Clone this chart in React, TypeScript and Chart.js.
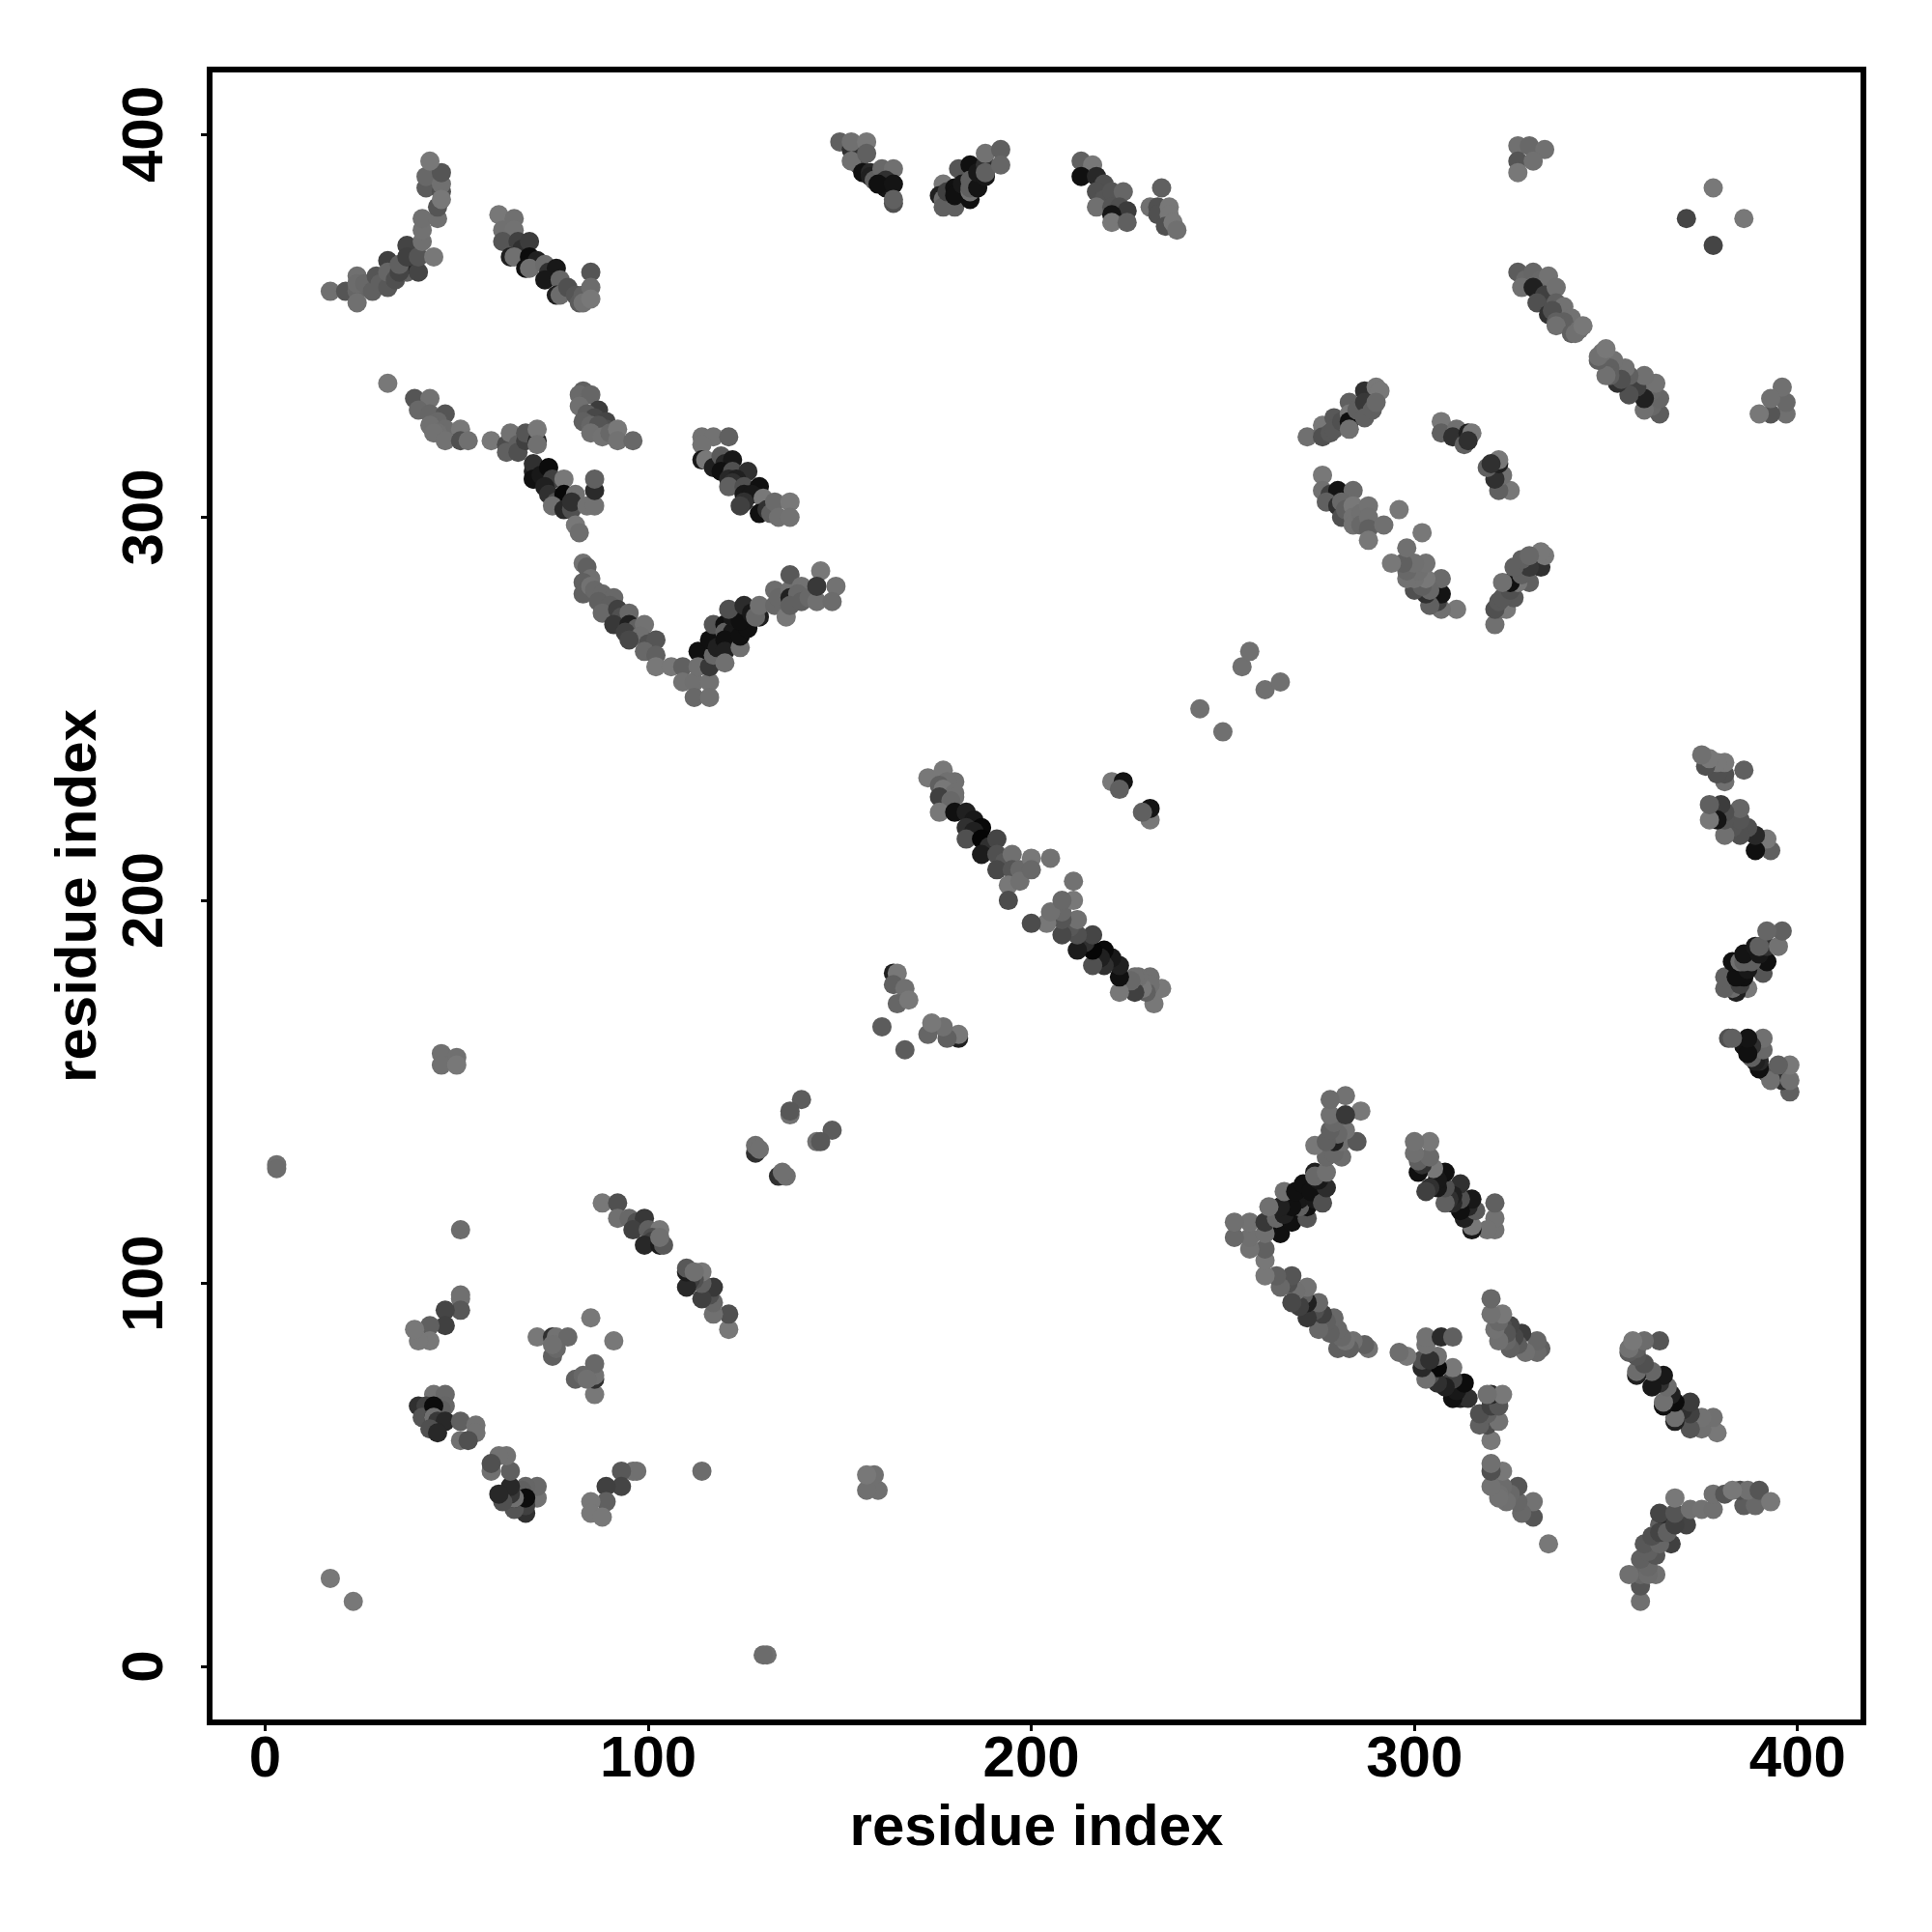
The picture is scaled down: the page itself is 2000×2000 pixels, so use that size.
import React, { useEffect, useRef } from "react";
import { Chart, registerables } from "chart.js";

Chart.register(...registerables);

const axisTitle = "residue index";
const tickValues = [0, 100, 200, 300, 400];

// Each contact is [residue i, residue j, grey level]. The map is symmetric, so only i < j is listed.
const armA = [
  [17,359,0x70],[21,359,0x55],[24,363,0x70],[24,359,0x66],[24,356,0x70],[24,361,0x6c],[26,361,0x68],[28,359,0x60],[29,363,0x55],
  [30,361,0x60],[32,360,0x58],[32,367,0x40],[32,364,0x66],[34,362,0x50],[37,364,0x60],[37,366,0x2a],[35,364,0x44],[35,366,0x60],[37,371,0x44],
  [37,368,0x40],[40,364,0x45],[40,368,0x55],[41,372,0x70],[41,375,0x72],[41,378,0x70],[44,368,0x78],[45,378,0x70],
  [45,381,0x55],[42,386,0x5c],[42,389,0x68],[46,385,0x50],[46,387,0x70],[46,383,0x78],[46,390,0x55],[43,393,0x78],
];
const armB = [
  [61,379,0x78],[65,378,0x70],[62,375,0x70],[65,375,0x72],[62,372,0x55],[66,372,0x40],[67,370,0x30],[69,372,0x3c],[64,368,0x20],
  [65,368,0x70],[69,368,0x0c],[68,365,0x10],[71,367,0x20],[69,365,0x70],[73,366,0x6c],[74,364,0x30],[76,365,0x18],[73,362,0x18],[77,362,0x66],
  [76,358,0x20],[77,358,0x6c],[79,360,0x50],[81,358,0x55],[82,356,0x5c],[83,358,0x60],[83,356,0x72],[85,364,0x55],[85,360,0x6c],[85,357,0x78],
];
const armC = [
  [32,335,0x78],[39,331,0x55],[43,331,0x72],[40,328,0x68],[43,327,0x66],[47,327,0x55],[45,325,0x68],[43,324,0x70],[47,323,0x6c],
  [45,322,0x70],[44,322,0x72],[51,323,0x78],[47,320,0x72],[51,320,0x50],[53,320,0x70],
];
const armD = [
  [59,320,0x78],[63,319,0x4c],[63,317,0x60],[64,322,0x72],[66,319,0x60],[66,317,0x50],[68,320,0x40],[68,322,0x55],[71,320,0x28],
  [71,323,0x78],[71,319,0x70],[70,310,0x60],[70,312,0x20],[70,314,0x30],[70,310,0x10],[72,311,0x18],[74,313,0x0c],[75,310,0x40],[73,308,0x20],[78,310,0x78],
  [74,306,0x30],[76,304,0x50],[78,306,0x08],[81,306,0x72],[75,303,0x70],[78,302,0x28],[80,302,0x50],[80,304,0x30],[84,303,0x72],[86,303,0x72],
  [86,307,0x2a],[86,310,0x60],[81,298,0x78],[82,296,0x6e],
];
const armE = [
  [83,333,0x60],[82,332,0x6a],[85,332,0x66],[82,329,0x70],[87,328,0x3c],[84,327,0x5c],[86,326,0x48],[83,325,0x60],[89,325,0x45],[89,323,0x50],
  [85,324,0x66],[87,324,0x55],[85,322,0x70],[88,321,0x72],[90,322,0x68],[92,323,0x78],[92,320,0x72],[96,320,0x68],
];
const armF = [
  [114,321,0x72],[117,321,0x72],[121,321,0x60],[114,319,0x72],[114,315,0x18],[115,315,0x78],[117,313,0x20],[119,316,0x5a],[120,314,0x28],[122,315,0x18],
  [119,312,0x10],[122,312,0x50],[126,312,0x30],[121,310,0x28],[123,310,0x20],[122,309,0x30],[121,308,0x60],[125,308,0x50],[129,308,0x10],
  [125,306,0x18],[127,306,0x18],[125,304,0x30],[124,303,0x40],[130,305,0x78],[129,301,0x10],[131,302,0x30],[132,301,0x60],[133,304,0x6a],[137,304,0x78],[134,300,0x70],
  [137,300,0x72],
];
const strandG = [
  [83,288,0x72],[84,287,0x60],[85,284,0x70],[83,283,0x60],[83,280,0x60],[85,282,0x72],[86,281,0x68],[88,280,0x68],[91,279,0x68],
  [87,278,0x60],[90,277,0x60],[88,275,0x68],[92,276,0x40],[93,274,0x50],[95,275,0x68],[91,272,0x38],[95,272,0x20],[97,271,0x60],[94,270,0x40],[99,272,0x72],[98,269,0x70],[95,268,0x48],
  [100,267,0x50],[102,268,0x55],[99,265,0x68],[102,264,0x60],[102,261,0x78],[106,261,0x78],[109,261,0x60],[109,257,0x72],[112,257,0x70],
  [116,257,0x72],[112,253,0x68],[116,253,0x70],
];
const strandH = [
  [113,265,0x10],[113,261,0x70],[116,261,0x38],[117,264,0x68],[116,268,0x10],[118,266,0x20],[117,272,0x55],[120,272,0x10],[120,270,0x60],[122,270,0x18],
  [120,268,0x10],[120,265,0x20],[120,262,0x70],[124,266,0x70],[124,269,0x10],[126,271,0x10],[122,274,0x18],[124,273,0x10],[121,276,0x50],[125,277,0x2c],[127,275,0x18],
  [129,274,0x20],[128,274,0x68],[129,277,0x70],[133,281,0x6c],[133,277,0x68],[134,279,0x68],[137,281,0x70],[137,285,0x58],[137,279,0x20],
  [140,282,0x72],[139,280,0x68],[136,274,0x78],[137,277,0x60],[140,278,0x60],[142,279,0x68],[144,278,0x70],[145,286,0x78],[144,282,0x38],[149,282,0x72],
  [148,278,0x6c],
];
const topI = [
  [150,398,0x60],[153,396,0x30],[153,398,0x70],[157,398,0x78],[155,392,0x50],[153,393,0x70],[157,395,0x60],[156,390,0x10],[158,390,0x28],[158,389,0x20],
  [159,388,0x60],[161,391,0x68],[164,391,0x70],[162,388,0x30],[162,386,0x14],[160,387,0x10],[164,387,0x14],[164,382,0x50],[164,383,0x60],
];
const topJ = [
  [177,387,0x78],[176,384,0x20],[177,383,0x6c],[177,381,0x60],[178,385,0x40],[180,381,0x60],[181,391,0x55],[180,386,0x10],[180,384,0x10],
  [182,387,0x18],[184,383,0x10],[184,385,0x70],[184,392,0x10],[184,388,0x60],[184,386,0x60],[186,386,0x14],[186,390,0x18],[188,389,0x18],[188,392,0x30],[188,390,0x60],
  [188,395,0x72],[192,396,0x60],[192,392,0x66],
];
const topK = [
  [213,393,0x60],[216,392,0x78],[213,389,0x10],[217,389,0x28],[219,387,0x50],[217,385,0x50],[219,383,0x55],[217,381,0x70],[221,385,0x55],[224,385,0x66],
  [221,381,0x55],[223,381,0x50],[225,380,0x3c],[221,379,0x15],[221,377,0x78],[225,377,0x60],
];
const topL = [
  [234,386,0x60],[231,381,0x70],[233,381,0x50],[233,379,0x50],[236,381,0x78],[236,379,0x78],[235,376,0x50],[237,377,0x78],
  [238,375,0x70],
];
const midM = [
  [272,321,0x70],[276,322,0x68],[276,324,0x78],[276,321,0x50],[278,322,0x58],[279,326,0x58],[279,323,0x58],[281,325,0x50],[283,330,0x60],[283,327,0x78],
  [283,325,0x10],[283,323,0x70],[285,328,0x60],[287,333,0x30],[287,330,0x38],[287,326,0x60],[289,328,0x60],[290,334,0x78],[291,333,0x78],[290,330,0x68],
];
const midN = [
  [276,311,0x78],[276,307,0x70],[278,306,0x40],[280,307,0x14],[284,307,0x6a],[277,304,0x60],[280,303,0x30],[281,304,0x68],[281,300,0x50],[282,302,0x60],
  [284,303,0x78],[284,300,0x72],[284,298,0x72],[286,301,0x70],[286,298,0x68],[288,303,0x72],[288,300,0x70],[288,297,0x60],[288,294,0x78],[292,298,0x70],
  [296,302,0x78],
];
const midO = [
  [307,325,0x78],[307,322,0x60],[311,323,0x70],[310,321,0x30],[313,319,0x60],[314,322,0x20],[315,322,0x78],[314,320,0x30],
];
const farP = [[327,397,0x70],[330,397,0x68],[334,396,0x70],[327,393,0x55],[331,393,0x70],[327,390,0x78]];
const farQ = [[378,386,0x78],[371,378,0x45]];
const farR = [
  [327,364,0x5c],[329,362,0x68],[331,364,0x66],[333,362,0x68],[335,363,0x72],[328,360,0x70],[331,360,0x20],[334,358,0x40],[337,360,0x70],[332,356,0x50],[337,356,0x60],
  [339,355,0x72],[335,353,0x30],[336,354,0x50],[341,352,0x72],[339,351,0x60],[337,351,0x60],[337,350,0x70],[341,348,0x60],[343,349,0x70],[342,348,0x70],[344,350,0x78],
];
const diagS = [
  [173,232,0x78],[177,234,0x78],[180,231,0x70],[178,231,0x70],[176,230,0x60],[177,229,0x78],[180,228,0x70],[176,227,0x40],[180,227,0x70],[179,226,0x68],
  [176,223,0x78],[180,223,0x10],[183,223,0x20],[185,221,0x18],[183,219,0x30],[187,219,0x08],[185,218,0x20],[183,216,0x50],[187,216,0x05],[189,214,0x30],[187,212,0x1c],
  [191,216,0x45],[191,212,0x50],[193,210,0x58],[191,208,0x48],[195,212,0x70],[195,208,0x55],[197,208,0x68],[194,204,0x78],[197,205,0x70],[200,211,0x78],
  [200,208,0x68],[205,211,0x72],[194,200,0x4c],
];
const diagT = [[221,231,0x78],[224,231,0x14],[223,229,0x60]];
const lowU = [
  [88,121,0x78],[92,121,0x50],[92,117,0x70],[95,117,0x68],[97,116,0x50],[99,117,0x38],[96,114,0x40],[100,114,0x60],[103,114,0x78],
  [101,112,0x50],[101,111,0x40],[99,110,0x28],[103,110,0x1c],[104,110,0x58],[103,112,0x70],
];
const lowV = [[51,97,0x70],[51,96,0x70],[51,93,0x58],[47,93,0x45],[47,89,0x40],[43,89,0x60],[43,85,0x78],[40,85,0x78],[39,88,0x78]];
const lowW = [[71,86,0x78],[75,86,0x30],[76,86,0x72],[79,86,0x68],[75,81,0x60],[76,83,0x68],[75,84,0x70],[85,91,0x78]];
const lowX = [
  [40,68,0x30],[44,71,0x72],[47,71,0x68],[47,68,0x66],[42,68,0x40],[46,67,0x60],[41,65,0x55],[44,68,0x0c],[44,65,0x18],[44,65,0x70],[45,64,0x38],[47,64,0x28],
  [43,62,0x50],[45,61,0x28],[51,64,0x60],[55,63,0x72],[55,61,0x72],[51,59,0x70],[53,59,0x50],
];
const stepY = [
  [164,181,0x20],[165,181,0x78],[164,178,0x60],[167,177,0x70],[165,173,0x66],[168,174,0x78],[161,167,0x5c],
  [140,148,0x5c],[137,144,0x72],[137,145,0x58],[128,134,0x30],[128,136,0x70],[129,135,0x70],
];
const loneZ = [
  [46,160,0x70],[50,159,0x70],[46,157,0x70],[50,157,0x78],[51,114,0x6c],[3,131,0x70],[3,130,0x6c],[17,23,0x78],
  [244,250,0x70],[255,261,0x70],[257,265,0x70],
];

const contacts = [
  armA, armB, armC, armD, armE, armF, strandG, strandH, topI, topJ, topK, topL, midM, midN, midO,
  farP, farQ, farR, diagS, diagT, lowU, lowV, lowW, lowX, stepY, loneZ,
].flat();

const framePlugin = {
  id: "frame",
  afterDatasetsDraw(chart: any) {
    const { left, top, width, height } = chart.chartArea;
    const c = chart.ctx;
    c.save();
    c.strokeStyle = "#000";
    c.lineWidth = 6;
    c.strokeRect(left, top, width, height);
    c.restore();
  },
};

const font = { family: "'Liberation Sans', Arial, sans-serif", size: 60, weight: "bold" as const };

export default function App() {
  const ref = useRef<HTMLCanvasElement>(null);
  useEffect(() => {
    const data = [
      ...contacts.map(([i, j, g]) => ({ x: i, y: j, g })),
      ...contacts.map(([i, j, g]) => ({ x: j, y: i, g })),
    ];
    const setTicks = (s: any) => {
      s.ticks = tickValues.map((value) => ({ value }));
    };
    const chart = new Chart(ref.current as HTMLCanvasElement, {
      type: "scatter",
      data: {
        datasets: [
          {
            data,
            pointRadius: 10,
            pointHoverRadius: 10,
            pointBorderWidth: 0,
            pointBackgroundColor: data.map((d) => `rgb(${d.g},${d.g},${d.g})`),
          },
        ],
      },
      options: {
        responsive: false,
        animation: false,
        layout: { padding: { left: 0, top: 72, right: 71, bottom: 0 } },
        plugins: { legend: { display: false }, tooltip: { enabled: false } },
        scales: {
          x: {
            type: "linear",
            min: -14.5,
            max: 417.2,
            afterBuildTicks: setTicks,
            afterFit: (s: any) => {
              s.height = 217;
            },
            grid: { drawOnChartArea: false, tickLength: 9, tickWidth: 3, tickColor: "#000" },
            border: { display: false },
            ticks: { color: "#000", font, padding: -6, maxRotation: 0, minRotation: 0, autoSkip: false },
            title: { display: true, text: axisTitle, color: "#000", font, padding: { top: 0, bottom: 71 } },
          },
          y: {
            type: "linear",
            min: -14.6,
            max: 416.9,
            afterBuildTicks: setTicks,
            afterFit: (s: any) => {
              s.width = 217;
            },
            grid: { drawOnChartArea: false, tickLength: 9, tickWidth: 3, tickColor: "#000" },
            border: { display: false },
            ticks: { color: "#000", font, padding: 6, minRotation: 90, maxRotation: 90, crossAlign: "center", autoSkip: false },
            title: { display: true, text: axisTitle, color: "#000", font, padding: { top: 46, bottom: 0 } },
          },
        },
      },
      plugins: [framePlugin],
    } as any);
    return () => chart.destroy();
  }, []);
  return (
    <div style={{ position: "absolute", left: 0, top: 0, width: 2000, height: 2000, background: "#fff" }}>
      <canvas ref={ref} width={2000} height={2000} style={{ display: "block" }} />
    </div>
  );
}
